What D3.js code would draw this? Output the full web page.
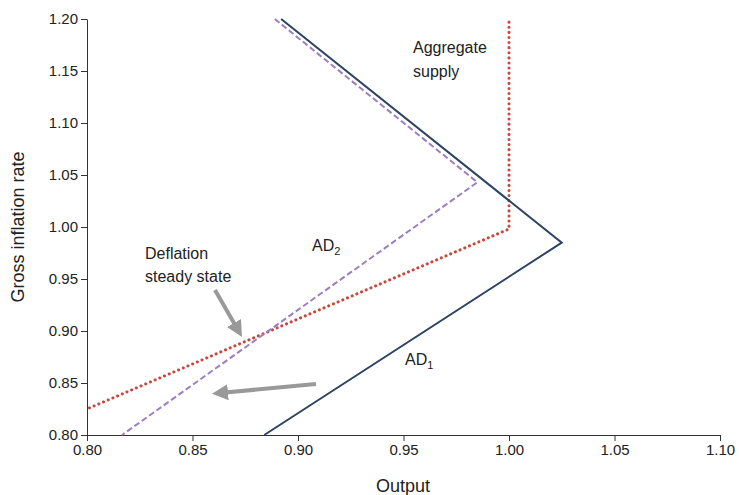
<!DOCTYPE html>
<html><head><meta charset="utf-8">
<script src="https://cdn.jsdelivr.net/npm/d3@7"></script>
<style>body{margin:0;background:#fff}text{font-family:Arial,"Liberation Sans",sans-serif}</style>
</head><body><svg width="739" height="495"></svg>
<script>
const xTicks = [0.80,0.85,0.90,0.95,1.00,1.05,1.10];
const yTicks = [0.80,0.85,0.90,0.95,1.00,1.05,1.10,1.15,1.20];
const ad1 = [[0.892,1.20],[1.025,0.985],[0.884,0.80]];
const ad2 = [[0.889,1.20],[0.985,1.043],[0.8166,0.80]];
const as = [[1.0,1.197],[1.0,0.998],[0.80,0.825]];

const svg = d3.select("svg");
const x = d3.scaleLinear().domain([0.80,1.10]).range([87,720]);
const y = d3.scaleLinear().domain([0.80,1.20]).range([435,19]);
const line = d3.line().x(d => x(d[0])).y(d => y(d[1]));

svg.append("defs").append("marker").attr("id","ah").attr("viewBox","0 0 10 10")
  .attr("refX",5).attr("refY",5).attr("markerWidth",4).attr("markerHeight",4).attr("orient","auto")
  .append("path").attr("d","M0,0L10,5L0,10z").attr("fill","#999");

const xa = svg.append("g").attr("transform","translate(0,435)")
  .call(d3.axisBottom(x).tickValues(xTicks).tickFormat(d3.format(".2f")).tickSizeOuter(0));
const ya = svg.append("g").attr("transform","translate(87,0)")
  .call(d3.axisLeft(y).tickValues(yTicks).tickFormat(d3.format(".2f")).tickSizeOuter(0));
[xa,ya].forEach(a => { a.selectAll("text").attr("font-size",15).attr("fill","#222"); a.selectAll("path,line").attr("stroke","#333"); });

svg.append("path").attr("d",line(as)).attr("fill","none").attr("stroke","#c8473c")
  .attr("stroke-width",3).attr("stroke-dasharray","0.1 5").attr("stroke-linecap","round");
svg.append("path").attr("d",line(ad2)).attr("fill","none").attr("stroke","#9b7fc1")
  .attr("stroke-width",2).attr("stroke-dasharray","6 3");
svg.append("path").attr("d",line(ad1)).attr("fill","none").attr("stroke","#2d4462").attr("stroke-width",2);

svg.append("line").attr("x1",215).attr("y1",290).attr("x2",238).attr("y2",330)
  .attr("stroke","#999").attr("stroke-width",4).attr("marker-end","url(#ah)");
svg.append("line").attr("x1",316).attr("y1",384).attr("x2",220).attr("y2",393)
  .attr("stroke","#999").attr("stroke-width",4).attr("marker-end","url(#ah)");

const t = (s,px,py) => svg.append("text").attr("x",px).attr("y",py).attr("font-size",16).attr("fill","#222").text(s);
t("Aggregate",413,53); t("supply",413,77);
t("Deflation",145,259); t("steady state",145,282);
const a2 = t("AD",312,251); a2.append("tspan").attr("font-size",11).attr("dy",4).text("2");
const a1 = t("AD",405,365); a1.append("tspan").attr("font-size",11).attr("dy",4).text("1");

svg.append("text").attr("x",403).attr("y",492).attr("text-anchor","middle").attr("font-size",18).attr("fill","#222").text("Output");
svg.append("text").attr("transform","translate(24,227) rotate(-90)").attr("text-anchor","middle").attr("font-size",18).attr("fill","#222").text("Gross inflation rate");
</script></body></html>
